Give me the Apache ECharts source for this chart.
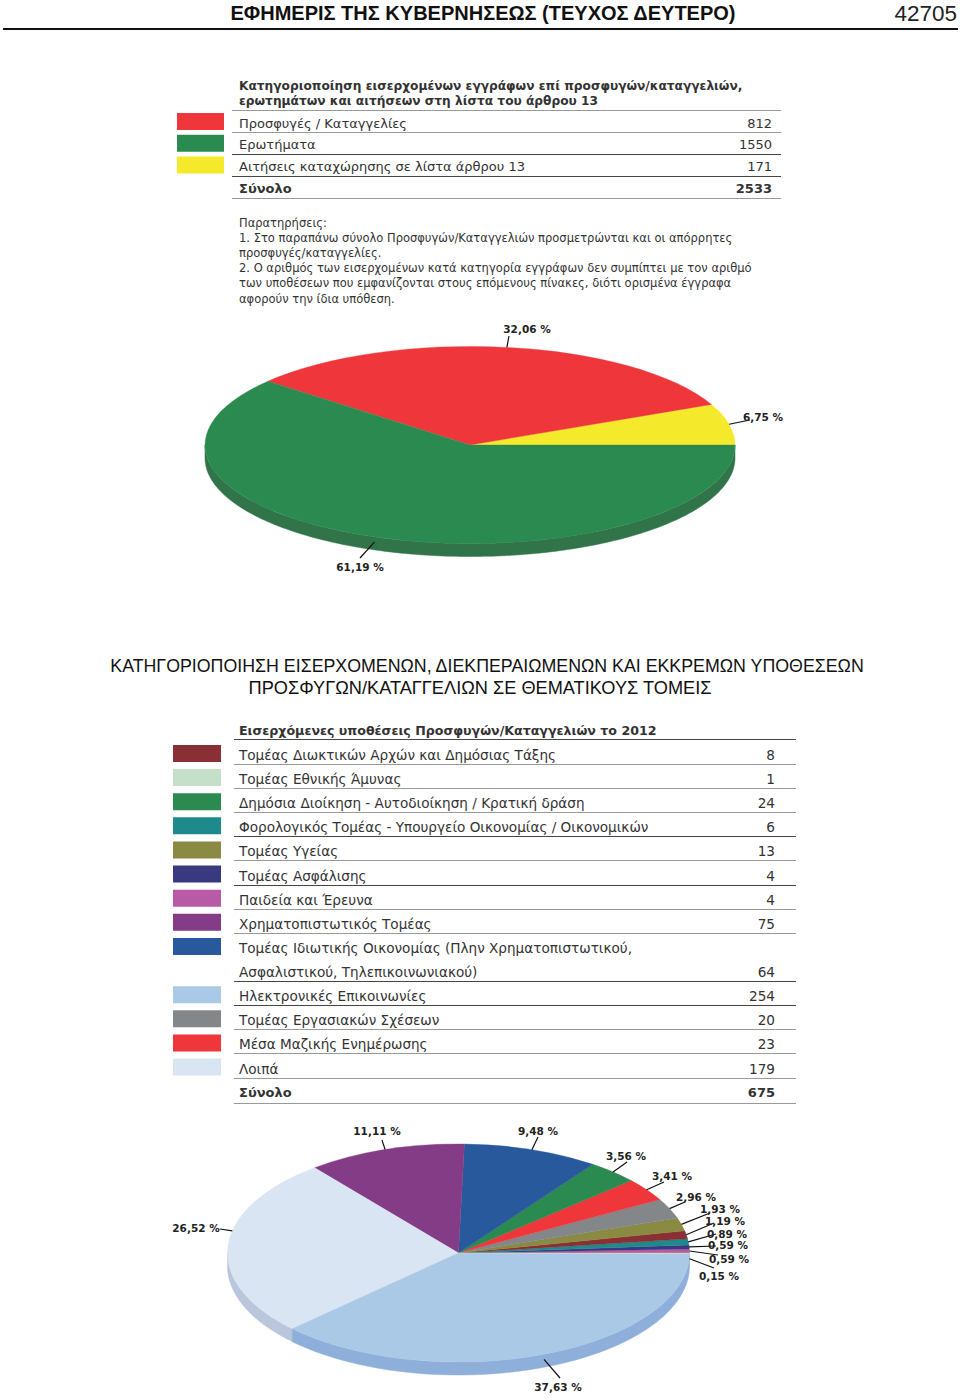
<!DOCTYPE html>
<html>
<head>
<meta charset="utf-8">
<style>
  html, body { margin: 0; padding: 0; background: #fff; }
  #page { width: 960px; height: 1400px; }
</style>
<script src="https://cdn.jsdelivr.net/npm/echarts@6/dist/echarts.min.js"></script>
</head>
<body>
<div id="page"></div>
<script>
// πρώτος πίνακας / πίτα
const docNames = ['Προσφυγές / Καταγγελίες', 'Ερωτήματα', 'Αιτήσεις καταχώρησης σε λίστα άρθρου 13']
const docValues = [812, 1550, 171]
const docPercents = ['32,06 %', '61,19 %', '6,75 %']
const docPieOrder = [2, 0, 1]
const docTotal = 2533

const notes = [
  'Παρατηρήσεις:',
  '1. Στο παραπάνω σύνολο Προσφυγών/Καταγγελιών προσμετρώνται και οι απόρρητες',
  'προσφυγές/καταγγελίες.',
  '2. Ο αριθμός των εισερχομένων κατά κατηγορία εγγράφων δεν συμπίπτει με τον αριθμό',
  'των υποθέσεων που εμφανίζονται στους επόμενους πίνακες, διότι ορισμένα έγγραφα',
  'αφορούν την ίδια υπόθεση.'
]

// δεύτερος πίνακας / πίτα
const topicNames = [
  'Τομέας Διωκτικών Αρχών και Δημόσιας Τάξης',
  'Τομέας Εθνικής Άμυνας',
  'Δημόσια Διοίκηση - Αυτοδιοίκηση / Κρατική δράση',
  'Φορολογικός Τομέας - Υπουργείο Οικονομίας / Οικονομικών',
  'Τομέας Υγείας',
  'Τομέας Ασφάλισης',
  'Παιδεία και Έρευνα',
  'Χρηματοπιστωτικός Τομέας',
  'Τομέας Ιδιωτικής Οικονομίας (Πλην Χρηματοπιστωτικού,\nΑσφαλιστικού, Τηλεπικοινωνιακού)',
  'Ηλεκτρονικές Επικοινωνίες',
  'Τομέας Εργασιακών Σχέσεων',
  'Μέσα Μαζικής Ενημέρωσης',
  'Λοιπά'
]
const topicValues = [8, 1, 24, 6, 13, 4, 4, 75, 64, 254, 20, 23, 179]
const topicPercents = ['1,19 %', '0,15 %', '3,56 %', '0,89 %', '1,93 %', '0,59 %', '0,59 %', '11,11 %', '9,48 %', '37,63 %', '2,96 %', '3,41 %', '26,52 %']
const topicPieOrder = [6, 5, 3, 0, 4, 10, 11, 2, 8, 7, 12, 9, 1]
const topicTotal = 675

// χρώματα
const docColors = ['#ee363b', '#2a8a50', '#f4e92b']
const docSideColors = ['#c52f33', '#31744a', '#c9bf24']
const topicColors = ['#8a2f33', '#c5dfc9', '#2a8a50', '#1f8a8c', '#8a8a42', '#39397f', '#b85aa5', '#833c85', '#27599c', '#a9c9e6', '#84878a', '#ee363b', '#d9e5f3']
const topicSideColors = ['#6d2528', '#a3bca7', '#24733f', '#196f70', '#6f6f35', '#2d2d66', '#964a86', '#6a306b', '#1f477d', '#8eafd9', '#6a6c6f', '#c22c30', '#b9c6dc']

const TEXT = '#333'
const TABLE_FONT = '"DejaVu Sans"'
const PRINT_FONT = '"Liberation Sans"'
const PIE_FONT = '"DejaVu Sans"'

const elements = []

function addText(x, y, text, size, opts) {
  const o = opts || {}
  elements.push({
    type: 'text',
    silent: true,
    style: {
      x, y, text,
      fill: o.fill || TEXT,
      font: (o.weight || 'normal') + ' ' + size + 'px ' + (o.family || TABLE_FONT),
      align: o.align || 'left',
      textAlign: o.align || 'left',
      verticalAlign: 'middle',
      textVerticalAlign: 'middle'
    }
  })
}

function addRule(x1, x2, y, color, width) {
  elements.push({
    type: 'line',
    silent: true,
    shape: { x1, y1: y, x2, y2: y },
    style: { stroke: color, lineWidth: width || 1 }
  })
}

function addSwatch(x, y, w, h, color) {
  elements.push({
    type: 'rect',
    silent: true,
    shape: { x, y, width: w, height: h },
    style: { fill: color }
  })
}

// κεφαλίδα σελίδας
addText(483, 13, 'ΕΦΗΜΕΡΙΣ ΤΗΣ ΚΥΒΕΡΝΗΣΕΩΣ (ΤΕΥΧΟΣ ΔΕΥΤΕΡΟ)', 20, { family: PRINT_FONT, weight: 'bold', align: 'center', fill: '#111' })
addText(957, 13, '42705', 22.5, { family: PRINT_FONT, align: 'right', fill: '#222' })
addRule(3, 958, 29, '#111', 2)

addText(487, 666, 'ΚΑΤΗΓΟΡΙΟΠΟΙΗΣΗ ΕΙΣΕΡΧΟΜΕΝΩΝ, ΔΙΕΚΠΕΡΑΙΩΜΕΝΩΝ ΚΑΙ ΕΚΚΡΕΜΩΝ ΥΠΟΘΕΣΕΩΝ', 17.8, { family: PRINT_FONT, align: 'center', fill: '#111' })
addText(480, 688, 'ΠΡΟΣΦΥΓΩΝ/ΚΑΤΑΓΓΕΛΙΩΝ ΣΕ ΘΕΜΑΤΙΚΟΥΣ ΤΟΜΕΙΣ', 18.2, { family: PRINT_FONT, align: 'center', fill: '#111' })

// πρώτος πίνακας
addText(239, 86, 'Κατηγοριοποίηση εισερχομένων εγγράφων επί προσφυγών/καταγγελιών,', 12.2, { weight: 'bold' })
addText(239, 101, 'ερωτημάτων και αιτήσεων στη λίστα του άρθρου 13', 12.2, { weight: 'bold' })
addRule(232, 781, 110.5, '#999')
docNames.forEach((name, i) => {
  const y = 123 + i * 21.7
  addSwatch(177, y - 10, 47, 17, docColors[i])
  addText(239, y, name, 13)
  addText(772, y, String(docValues[i]), 13, { align: 'right' })
  addRule(232, 781, Math.round(132 + i * 22) + 0.5, i === 0 ? '#999' : '#444')
})
addText(239, 188, 'Σύνολο', 13, { weight: 'bold' })
addText(772, 188, String(docTotal), 13, { weight: 'bold', align: 'right' })
addRule(232, 781, 198.5, '#999')
notes.forEach((line, i) => addText(239, 223 + i * 15.1, line, 11.5))

// δεύτερος πίνακας
addText(239, 730, 'Εισερχόμενες υποθέσεις Προσφυγών/Καταγγελιών το 2012', 12.6, { weight: 'bold' })
addRule(234, 796, 739.5, '#444')
const darkRules = [3, 5, 8, 9]
const ROW = 24.12
let rowIdx = 0
topicNames.forEach((name, i) => {
  const lines = name.split('\n')
  const y = 755 + rowIdx * ROW
  addSwatch(173, y - 10, 48, 17, topicColors[i])
  lines.forEach((line, k) => addText(239, y + k * ROW, line, 13.6))
  const lastY = y + (lines.length - 1) * ROW
  addText(775, lastY, String(topicValues[i]), 13.6, { align: 'right' })
  addRule(234, 796, Math.round(lastY + 9) + 0.5, darkRules.includes(i) ? '#444' : '#999')
  rowIdx += lines.length
})
const totalY = 755 + rowIdx * ROW
addText(239, totalY, 'Σύνολο', 13, { weight: 'bold' })
addText(775, totalY, String(topicTotal), 13, { weight: 'bold', align: 'right' })
addRule(234, 796, Math.round(totalY + 10) + 0.5, '#999')

// Πίτα σε προοπτική: το sector πατιέται με scaleY και η πλευρά κλείνει με polygon
function pieSeries(pie) {
  const values = pie.order.map(i => pie.values[i])
  const total = values.reduce((a, b) => a + b, 0)
  const starts = []
  let sum = 0
  values.forEach(v => { starts.push(sum / total * 360); sum += v })
  const rad = d => d * Math.PI / 180
  const edge = (deg, dy) => [
    pie.cx + pie.rx * Math.cos(rad(deg)),
    pie.cy - pie.ry * Math.sin(rad(deg)) + (dy || 0)
  ]

  const renderSide = (params, api) => {
    const a0 = starts[params.dataIndex]
    const a1 = a0 + api.value(0) / total * 360
    const from = Math.max(a0, 180)
    const to = Math.min(a1, 360)
    if (to <= from) return { type: 'group', children: [] }
    const top = []
    const bottom = []
    for (let a = from; a <= to; a += 1) {
      top.push(edge(a))
      bottom.unshift(edge(a, pie.depth))
    }
    top.push(edge(to))
    bottom.unshift(edge(to, pie.depth))
    const color = pie.sideColors[pie.order[params.dataIndex]]
    return {
      type: 'polygon',
      shape: { points: top.concat(bottom) },
      style: { fill: color, stroke: color, lineWidth: 0.5 }
    }
  }

  const renderTop = (params, api) => {
    const a0 = starts[params.dataIndex]
    const a1 = a0 + api.value(0) / total * 360
    const color = pie.colors[pie.order[params.dataIndex]]
    return {
      type: 'sector',
      x: pie.cx,
      y: pie.cy,
      scaleY: pie.ry / pie.rx,
      shape: { cx: 0, cy: 0, r: pie.rx, r0: 0, startAngle: -rad(a0), endAngle: -rad(a1), clockwise: false },
      style: { fill: color, stroke: color, lineWidth: 0.5 }
    }
  }

  const renderLabel = (params, api) => {
    const a0 = starts[params.dataIndex]
    const mid = a0 + api.value(0) / total * 180
    const item = pie.order[params.dataIndex]
    const spot = pie.labelAt[params.dataIndex]
    const start = edge(mid + (spot.shift || 0), mid > 180 && mid < 360 ? pie.depth * 0.4 : 0)
    return {
      type: 'group',
      children: [
        {
          type: 'line',
          shape: { x1: start[0], y1: start[1], x2: spot.lx, y2: spot.ly },
          style: { stroke: '#111', lineWidth: 1.2 }
        },
        {
          type: 'text',
          style: {
            x: spot.x, y: spot.y,
            text: pie.percents[item],
            fill: '#222',
            font: 'bold 10.5px ' + PIE_FONT,
            align: 'center', textAlign: 'center',
            verticalAlign: 'middle', textVerticalAlign: 'middle'
          }
        }
      ]
    }
  }

  const base = { type: 'custom', coordinateSystem: 'none', silent: true, animation: false, data: values }
  return [
    Object.assign({}, base, { renderItem: renderSide, z: 1 }),
    Object.assign({}, base, { renderItem: renderTop, z: 2 }),
    Object.assign({}, base, { renderItem: renderLabel, z: 3 })
  ]
}

const docPie = {
  cx: 470, cy: 445, rx: 265, ry: 98.5, depth: 13,
  values: docValues, order: docPieOrder, percents: docPercents,
  colors: docColors, sideColors: docSideColors,
  labelAt: [
    { x: 763, y: 417, lx: 750, ly: 420 },
    { x: 527, y: 329, lx: 509, ly: 336 },
    { x: 360, y: 567, lx: 360, ly: 558, shift: -1 }
  ]
}

const topicPie = {
  cx: 458.5, cy: 1253, rx: 231, ry: 109, depth: 13,
  values: topicValues, order: topicPieOrder, percents: topicPercents,
  colors: topicColors, sideColors: topicSideColors,
  labelAt: [
    { x: 729, y: 1259, lx: 718, ly: 1255 },
    { x: 728, y: 1245, lx: 716, ly: 1246 },
    { x: 727, y: 1234, lx: 716, ly: 1234 },
    { x: 725, y: 1221, lx: 714, ly: 1223 },
    { x: 720, y: 1209, lx: 710, ly: 1213 },
    { x: 696, y: 1197, lx: 685, ly: 1202 },
    { x: 672, y: 1176, lx: 664, ly: 1182 },
    { x: 626, y: 1156, lx: 627, ly: 1162 },
    { x: 538, y: 1131, lx: 538, ly: 1137 },
    { x: 377, y: 1131, lx: 382, ly: 1140 },
    { x: 196, y: 1228, lx: 220, ly: 1229, shift: -8 },
    { x: 558, y: 1387, lx: 560, ly: 1378 },
    { x: 719, y: 1276, lx: 714, ly: 1268 }
  ]
}

const myChart = echarts.init(document.getElementById('page'), null, { renderer: 'svg', width: 960, height: 1400 })
myChart.setOption({
  animation: false,
  backgroundColor: '#fff',
  graphic: { elements },
  series: pieSeries(docPie).concat(pieSeries(topicPie))
})
</script>
</body>
</html>
